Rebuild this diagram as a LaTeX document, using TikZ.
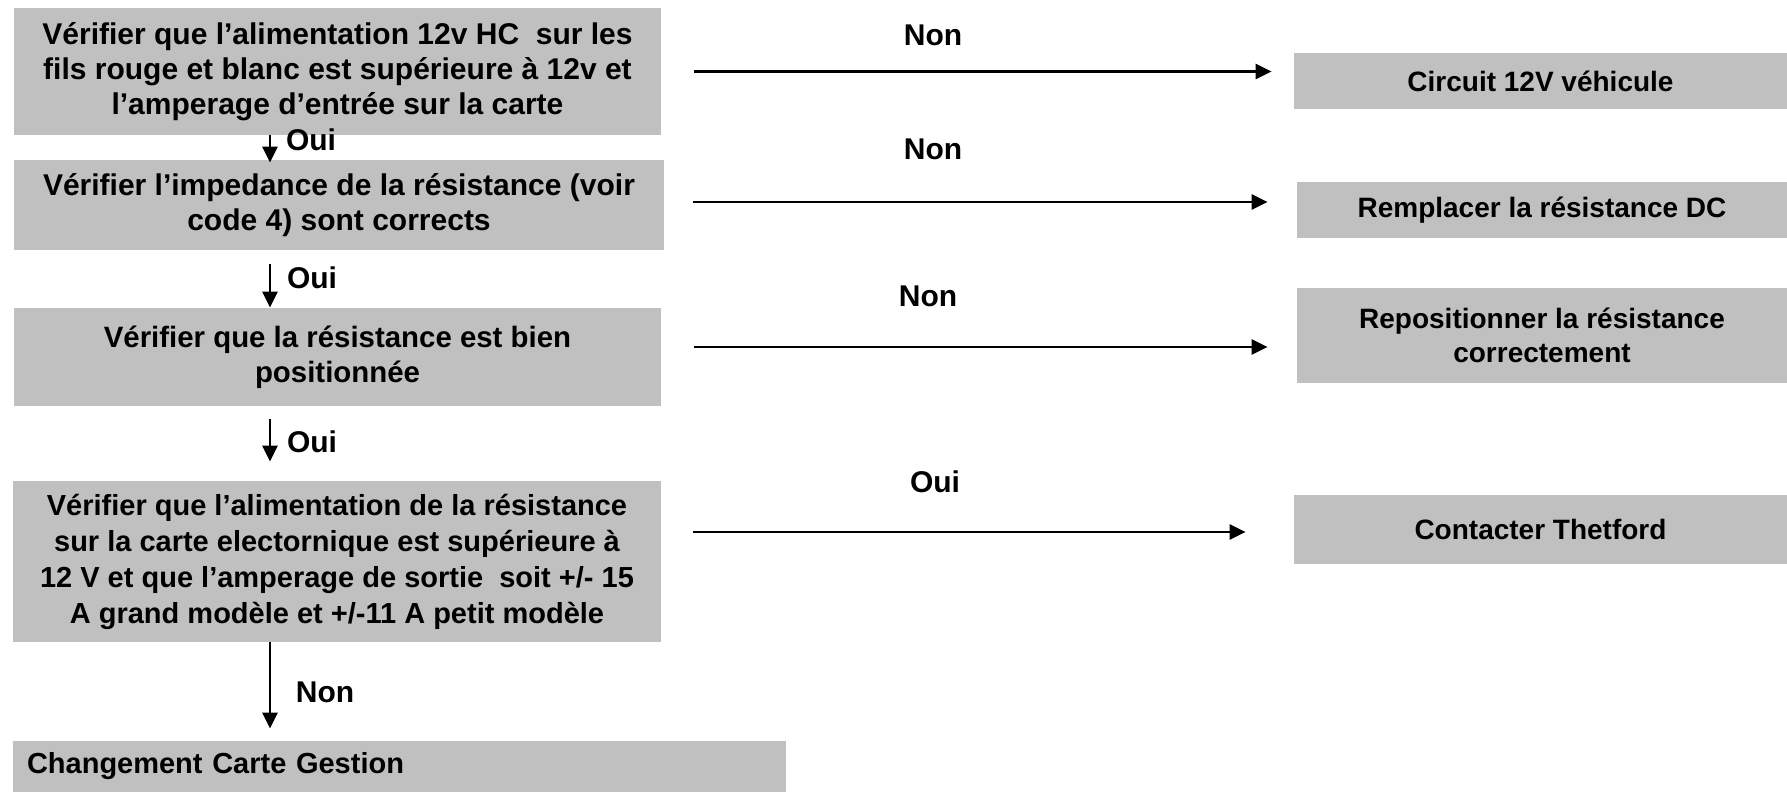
\documentclass[tikz,border=0pt]{standalone}
\usepackage{fontspec}
\setmainfont{Liberation Sans}
\usetikzlibrary{arrows.meta}
\definecolor{boxgray}{RGB}{192,192,192}
\begin{document}
\begin{tikzpicture}[x=0.5pt,y=-0.5pt,
  lbox/.style={fill=boxgray, inner sep=0pt, align=center,
    font=\fontsize{14.5pt}{17.4pt}\selectfont\bfseries},
  rbox/.style={fill=boxgray, inner sep=0pt, align=center,
    font=\fontsize{14pt}{17pt}\selectfont\bfseries},
  lbl/.style={inner sep=0pt, font=\fontsize{15pt}{18pt}\selectfont\bfseries},
  arr/.style={line width=1.2pt, -{Triangle[length=8pt,width=7.5pt]}}]
\useasboundingbox (0,0) rectangle (1787,792);
% left column
\node[lbox, minimum width=323.5pt, minimum height=63.5pt, font=\fontsize{15pt}{17.4pt}\selectfont\bfseries] (b1) at (337.5,71.5)
  {Vérifier que l’alimentation 12v HC~ sur les\\fils rouge et blanc est supérieure à 12v et\\l’amperage d’entrée sur la carte};
\node[lbox, minimum width=325pt, minimum height=45pt, font=\fontsize{15pt}{17.4pt}\selectfont\bfseries] (b2) at (339,205)
  {Vérifier l’impedance de la résistance (voir\\code 4) sont corrects};
\node[lbox, minimum width=323.5pt, minimum height=49pt, font=\fontsize{14.7pt}{17.4pt}\selectfont\bfseries] (b3) at (337.5,357)
  {Vérifier que la résistance est bien\\positionnée};
\node[lbox, minimum width=324pt, minimum height=80.5pt, font=\fontsize{14.5pt}{18pt}\selectfont\bfseries] (b4) at (337,561.5)
  {Vérifier que l’alimentation de la résistance\\sur la carte electornique est supérieure à\\12 V et que l’amperage de sortie~ soit +/- 15\\A grand modèle et +/-11 A petit modèle};
\node[lbox, minimum width=386.5pt, minimum height=25.5pt, text width=372.5pt, inner xsep=7pt, align=left] (b5) at (399.5,766.5)
  {Changement Carte Gestion};
% right column
\node[rbox, minimum width=246.5pt, minimum height=28pt] (r1) at (1540.5,81) {Circuit 12V véhicule};
\node[rbox, minimum width=245pt, minimum height=28pt] (r2) at (1542,210) {Remplacer la résistance DC};
\node[rbox, minimum width=245pt, minimum height=47.5pt] (r3) at (1542,335.5) {Repositionner la résistance\\correctement};
\node[rbox, minimum width=246.5pt, minimum height=34.5pt] (r4) at (1540.5,529.5) {Contacter Thetford};
% horizontal arrows
\draw[arr] ([xshift=16.5pt]b1.east) -- ([xshift=-11pt]b1.east -| r1.west);
\draw[arr] ([xshift=14.5pt,yshift=1.5pt]b2.east) -- ([xshift=-14.5pt,yshift=1.5pt]b2.east -| r2.west);
\draw[arr] ([xshift=16.5pt,yshift=5pt]b3.east) -- ([xshift=-14.5pt,yshift=5pt]b3.east -| r3.west);
\draw[arr] ([xshift=16pt,yshift=14.75pt]b4.east) -- ([xshift=-24pt,yshift=14.75pt]b4.east -| r4.west);
\node[lbl] (n1) at (933,35) {Non};
\node[lbl] (n2) at (933,149) {Non};
\node[lbl] (n3) at (928,296) {Non};
\node[lbl] (o4) at (935,482) {Oui};
% vertical arrows
\coordinate (vx) at (270,0);
\draw[arr] (b1.south -| vx) -- ([yshift=-1.5pt]b2.north -| vx);
\draw[arr, shorten <=7pt] (b2.south -| vx) -- (b3.north -| vx);
\draw[arr, shorten <=6.5pt, shorten >=9.5pt] (b3.south -| vx) -- (b4.north -| vx);
\draw[arr, shorten >=6pt] (b4.south -| vx) -- (b5.north -| vx);
\node[lbl] (o1) at (311,140) {Oui};
\node[lbl] (o2) at (312,278) {Oui};
\node[lbl] (o3) at (312,442) {Oui};
\node[lbl] (n4) at (325,692) {Non};
\end{tikzpicture}
\end{document}
